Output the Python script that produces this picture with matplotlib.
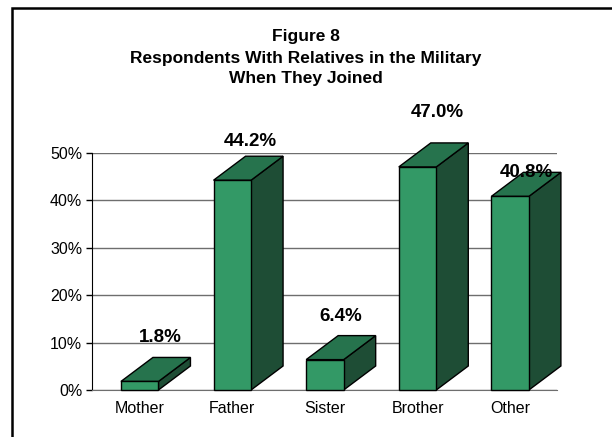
import matplotlib.pyplot as plt
from matplotlib.patches import Polygon, Rectangle

categories = ['Mother', 'Father', 'Sister', 'Brother', 'Other']
values = [1.8, 44.2, 6.4, 47.0, 40.8]
yticks = [0, 10, 20, 30, 40, 50]

front_color = '#339966'
top_color = '#26734D'
side_color = '#1E4D35'

plt.rcParams['font.family'] = ['Liberation Sans', 'DejaVu Sans']

fig = plt.figure(figsize=(6.12, 4.37), dpi=100)
ax = fig.add_axes([92 / 612, 47 / 437, 465 / 612, 237.3 / 437])
ax.set_xlim(-0.515, 4.506)
ax.set_ylim(0, 50)

width = 0.405
# depth of the 3D box, in data units (about 32 px right, 24 px up)
ddx = 0.3456
ddy = 5.06

for i, v in enumerate(values):
    xl = i - width / 2
    xr = i + width / 2
    front = Rectangle((xl, 0), width, v, facecolor=front_color,
                      edgecolor='black', lw=1, zorder=3, clip_on=False)
    top = Polygon([(xl, v), (xr, v), (xr + ddx, v + ddy), (xl + ddx, v + ddy)],
                  closed=True, facecolor=top_color, edgecolor='black',
                  lw=1, zorder=3, clip_on=False)
    side = Polygon([(xr, 0), (xr + ddx, ddy), (xr + ddx, v + ddy), (xr, v)],
                   closed=True, facecolor=side_color, edgecolor='black',
                   lw=1, zorder=3, clip_on=False)
    ax.add_patch(side)
    ax.add_patch(top)
    ax.add_patch(front)

# label offsets from the back of each top face, in pixels
label_offsets = [(5, 20), (2, 15), (0, 19), (4, 30), (0, 0)]
for i, v in enumerate(values):
    ax.annotate(f'{v:.1f}%', xy=(i + ddx / 2, v + ddy),
                xytext=label_offsets[i], textcoords='offset pixels',
                ha='center', va='center', fontsize=13.5, fontweight='bold',
                zorder=5, annotation_clip=False)

ax.set_yticks(yticks)
ax.set_yticklabels([f'{t}%' for t in yticks])
ax.set_xticks(range(len(categories)))
ax.set_xticklabels(categories)
ax.tick_params(axis='x', length=0, pad=8, labelsize=11.5)
ax.tick_params(axis='y', length=4, width=1, pad=3, labelsize=11.5)
ax.yaxis.grid(True, color='#6E6E6E', lw=1)
ax.set_axisbelow(True)
for s in ['top', 'right']:
    ax.spines[s].set_visible(False)
ax.spines['bottom'].set_color('#6E6E6E')
ax.spines['left'].set_color('black')

title_lines = ['Figure 8', 'Respondents With Relatives in the Military',
               'When They Joined']
for k, line in enumerate(title_lines):
    fig.text(0.5, 1 - (37 + 21 * k) / 437, line, ha='center', va='center',
             fontsize=12.5, fontweight='bold')

# outer frame, runs off the right and bottom edges
fig.patches.append(Rectangle((12 / 612, -0.05), 1.0, 1 - 8 / 437 + 0.05,
                             transform=fig.transFigure, fill=False,
                             edgecolor='black', lw=1.8))

plt.savefig('out.png', dpi=100)
